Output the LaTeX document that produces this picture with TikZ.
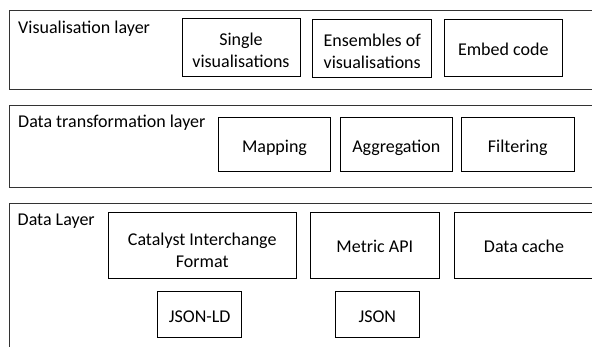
\documentclass[tikz,border=0pt]{standalone}
\usepackage{fontspec}
\setmainfont{Carlito}
\begin{document}
\begin{tikzpicture}[x=1pt,y=-1pt,
  layer/.style={draw=black!80, line width=1.4pt, inner sep=0pt, anchor=north west},
  item/.style={draw=black, line width=0.9pt, align=center, inner sep=0pt,
    font=\fontsize{18}{21.5}\selectfont, text height=15pt, text depth=0pt},
  twoline/.style={text height=40pt, text depth=0pt},
  lbl/.style={anchor=base west, inner sep=0pt, font=\fontsize{18}{21.5}\selectfont}]
\useasboundingbox (0,0) rectangle (592,346);
\clip (0,0) rectangle (592,346);
% layers
\node[layer, minimum width=600pt, minimum height=79pt] (vis) at (9,10) {};
\node[layer, minimum width=600pt, minimum height=82pt] (trans) at (9,105) {};
\node[layer, minimum width=600pt, minimum height=160pt] (data) at (9,202.5) {};
% labels
\node[lbl] (vislbl) at (18,33) {Visualisation layer};
\node[lbl] (translbl) at (18,127.5) {Data transformation layer};
\node[lbl] (datalbl) at (17.5,225) {Data Layer};
% visualisation layer
\node[item, twoline, minimum width=118pt, minimum height=57.5pt] (single) at (241,47.3) {Single\\visualisations};
\node[item, twoline, minimum width=119pt, minimum height=58pt] (ens) at (372.2,48) {Ensembles of\\visualisations};
\node[item, minimum width=118.7pt, minimum height=57pt] (embed) at (503.3,48.3) {Embed code};
% transformation layer
\node[item, text height=16pt, minimum width=112.4pt, minimum height=54pt] (mapping) at (274.5,144.3) {Mapping};
\node[item, text height=16pt, minimum width=112.7pt, minimum height=54pt] (aggr) at (396.3,144.3) {Aggregation};
\node[item, text height=16pt, minimum width=112.3pt, minimum height=54pt] (filter) at (517.8,144.3) {Filtering};
% data layer
\node[item, text height=44pt, text depth=0pt, font=\fontsize{18}{22}\selectfont, minimum width=187.7pt, minimum height=66pt] (cif) at (202.2,245.3) {Catalyst Interchange\\Format};
\node[item, minimum width=128.3pt, minimum height=66pt] (metric) at (374.8,245.3) {Metric API};
\node[item, minimum width=140pt, minimum height=66pt, anchor=west] (cache) at (454,245.3) {};
\node[font=\fontsize{18}{21.5}\selectfont, inner sep=0pt, text height=15pt, text depth=0pt] (cachetxt) at (524,245.3) {Data cache};
\node[item, minimum width=84pt, minimum height=46pt] (jsonld) at (199.7,314.7) {JSON-LD};
\node[item, minimum width=83.3pt, minimum height=46pt] (json) at (377.3,314.8) {JSON};
\end{tikzpicture}
\end{document}
